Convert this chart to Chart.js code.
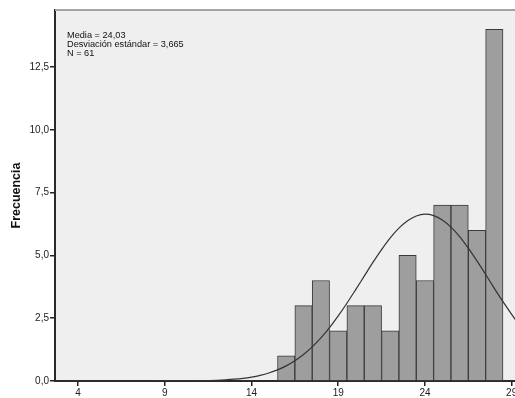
<!DOCTYPE html>
<html lang="es">
  <head>
    <meta charset="UTF-8" />
    <title>Histograma | Frecuencia</title>
    <script src="https://cdn.jsdelivr.net/npm/chart.js"></script>
    <style>
      body { margin: 0; background: #fff; overflow: hidden; }
      #caja { width: 530px; height: 398px; }
    </style>
  </head>
  <body>
    <div id="caja">
      <canvas id="graficoHistograma" width="530" height="398"></canvas>
    </div>
  </body>

  <script>
    // datos del histograma (un intervalo por valor entero)
    const valores = [16, 17, 18, 19, 20, 21, 22, 23, 24, 25, 26, 27, 28]
    const frecuencias = [1, 3, 4, 2, 3, 3, 2, 5, 4, 7, 7, 6, 14]

    // curva normal superpuesta
    const curvaX = [3, 4, 5, 6, 7, 8, 9, 10, 11, 12, 12.5, 13, 13.5, 14, 14.5, 15, 15.5, 16, 16.5, 17, 17.5, 18, 18.5,
      19, 19.5, 20, 20.5, 21, 21.5, 22, 22.5, 23, 23.5, 24, 24.5, 25, 25.5, 26, 26.5, 27, 27.5, 28, 28.5, 29, 29.5, 30]
    const curvaY = [0, 0, 0, 0, 0.0001, 0.0005, 0.0015, 0.004, 0.012, 0.03, 0.047, 0.072, 0.107, 0.157, 0.226, 0.319,
      0.443, 0.602, 0.805, 1.056, 1.358, 1.716, 2.127, 2.59, 3.094, 3.63, 4.176, 4.72, 5.233, 5.7, 6.086, 6.38, 6.571,
      6.64, 6.586, 6.41, 6.127, 5.75, 5.291, 4.78, 4.242, 3.69, 3.157, 2.65, 2.18, 1.76]

    const ticksX = [4, 9, 14, 19, 24, 29]
    const ticksY = [0, 2.5, 5, 7.5, 10, 12.5]

    const resumen = ["Media = 24,03", "Desviación estándar = 3,665", "N = 61"]

    let puntosBarras = []
    for (let i = 0; i < valores.length; i++) {
      puntosBarras.push({ x: valores[i], y: frecuencias[i] })
    }

    let puntosCurva = []
    for (let i = 0; i < curvaX.length; i++) {
      puntosCurva.push({ x: curvaX[i], y: curvaY[i] })
    }

    // fondo gris del area y borde superior
    const fondoArea = {
      id: "fondoArea",
      beforeDraw: function (chart) {
        const a = chart.chartArea
        const ctx = chart.ctx
        ctx.save()
        ctx.fillStyle = "#efefef"
        ctx.fillRect(a.left, a.top, a.right - a.left, a.bottom - a.top)
        ctx.restore()
      },
      afterDraw: function (chart) {
        const a = chart.chartArea
        const ctx = chart.ctx
        ctx.save()
        ctx.strokeStyle = "#a3a3a3"
        ctx.lineWidth = 2
        ctx.beginPath()
        ctx.moveTo(a.left, a.top)
        ctx.lineTo(a.right, a.top)
        ctx.stroke()

        // texto con media, desviacion y n
        ctx.fillStyle = "#111"
        ctx.font = "9.2px 'Liberation Sans', Arial, sans-serif"
        ctx.textBaseline = "alphabetic"
        const bases = [37.5, 47, 56]
        for (let i = 0; i < resumen.length; i++) {
          ctx.fillText(resumen[i], a.left + 12, bases[i])
        }
        ctx.restore()
      },
    }

    function formatoComa(v) {
      return v.toFixed(1).replace(".", ",")
    }

    const ctx = document.getElementById("graficoHistograma").getContext("2d")

    new Chart(ctx, {
      type: "bar",
      data: {
        datasets: [
          {
            type: "line",
            data: puntosCurva,
            borderColor: "#333",
            borderWidth: 1.2,
            pointRadius: 0,
            cubicInterpolationMode: "monotone",
            fill: false,
            order: 0,
          },
          {
            type: "bar",
            data: puntosBarras,
            backgroundColor: "#9e9e9e",
            borderColor: "#3a3a3a",
            borderWidth: 1,
            barPercentage: 1,
            categoryPercentage: 1,
            order: 1,
          },
        ],
      },
      options: {
        responsive: false,
        animation: false,
        layout: { padding: { top: 10, right: 1, left: 0, bottom: 0 } },
        plugins: {
          legend: { display: false },
          tooltip: { enabled: false },
        },
        scales: {
          x: {
            type: "linear",
            offset: false,
            min: 2.67,
            max: 30,
            afterBuildTicks: function (scale) {
              scale.ticks = ticksX.map(function (v) { return { value: v } })
            },
            afterFit: function (scale) { scale.height = 17 },
            grid: { offset: false, drawOnChartArea: false, drawTicks: true, tickLength: 5, color: "#222", lineWidth: 1.5 },
            border: { display: true, color: "#2a2a2a", width: 2 },
            ticks: {
              color: "#222",
              padding: 1,
              maxRotation: 0,
              font: { family: "'Liberation Sans', Arial, sans-serif", size: 10 },
            },
          },
          y: {
            min: 0,
            max: 14.77,
            afterBuildTicks: function (scale) {
              scale.ticks = ticksY.map(function (v) { return { value: v } })
            },
            afterFit: function (scale) { scale.width = 55 },
            grid: { drawOnChartArea: false, drawTicks: true, tickLength: 5, color: "#222", lineWidth: 1.5 },
            border: { display: true, color: "#2a2a2a", width: 2 },
            ticks: {
              color: "#222",
              padding: 1,
              callback: function (v) { return formatoComa(v) },
              font: { family: "'Liberation Sans', Arial, sans-serif", size: 10 },
            },
            title: {
              display: true,
              text: "Frecuencia",
              color: "#111",
              padding: { top: 9, bottom: 0 },
              font: { family: "'Liberation Sans', Arial, sans-serif", size: 12.5, weight: "bold" },
            },
          },
        },
      },
      plugins: [fondoArea],
    })
  </script>
</html>
